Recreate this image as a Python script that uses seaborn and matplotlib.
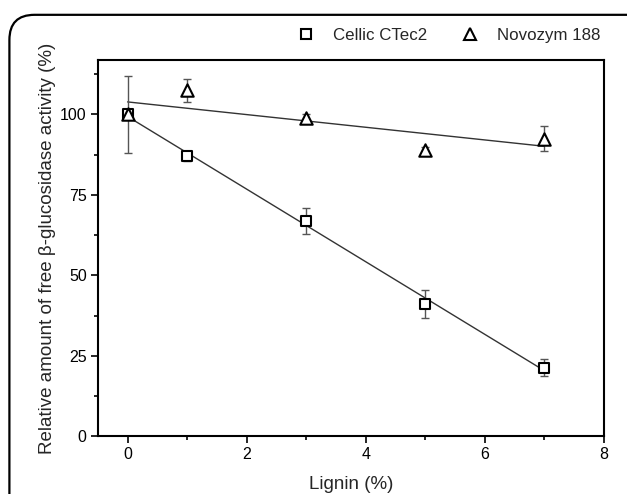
import numpy as np
import pandas as pd
import matplotlib
matplotlib.use("Agg")
import matplotlib.pyplot as plt
import seaborn as sns
from matplotlib.patches import FancyBboxPatch
from matplotlib.ticker import MultipleLocator
from matplotlib.lines import Line2D

lignin = [0, 1, 3, 5, 7]
cellic = [100, 87, 67, 41, 21.3]
cellic_err = [12, 1.5, 4, 4.3, 2.7]
novozym = [100, 107.5, 99, 89, 92.5]
novozym_err = [0.8, 3.5, 1, 0.8, 3.8]
series_names = ["Cellic CTec2", "Novozym 188"]

sns.set_style("ticks")
plt.rcParams['font.family'] = ['Liberation Sans', 'DejaVu Sans']

fig = plt.figure(figsize=(6.27, 4.94), dpi=100)
ax = fig.add_axes([0.156, 0.117, 0.807, 0.762])

# rounded frame around figure
frame = FancyBboxPatch((0.015, -0.1), 1.2, 1.07, boxstyle="round,pad=0,rounding_size=0.04",
                       transform=fig.transFigure, fill=False, edgecolor="black", linewidth=1.6,
                       mutation_aspect=627/494)
fig.patches.append(frame)

df_c = pd.DataFrame({"x": lignin, "y": cellic})
df_n = pd.DataFrame({"x": lignin, "y": novozym})

for df in (df_c, df_n):
    sns.regplot(data=df, x="x", y="y", ax=ax, scatter=False, ci=None, truncate=True,
                line_kws=dict(color="#333333", linewidth=1.0))

ax.errorbar(lignin, cellic, yerr=cellic_err, fmt="none", ecolor="#555555", elinewidth=1.0,
            capsize=3, capthick=1.0)
ax.errorbar(lignin, novozym, yerr=novozym_err, fmt="none", ecolor="#555555", elinewidth=1.0,
            capsize=3, capthick=1.0)
sns.scatterplot(data=df_c, x="x", y="y", ax=ax, marker="s", s=55, facecolor="white",
                edgecolor="black", linewidth=1.5, zorder=5)
sns.scatterplot(data=df_n, x="x", y="y", ax=ax, marker="^", s=80, facecolor="white",
                edgecolor="black", linewidth=1.5, zorder=5)

ax.set_xlim(-0.5, 8)
ax.set_ylim(0, 117)
ax.set_xticks([0, 2, 4, 6, 8])
ax.set_yticks([0, 25, 50, 75, 100])
ax.xaxis.set_minor_locator(MultipleLocator(1))
ax.yaxis.set_minor_locator(MultipleLocator(12.5))
ax.tick_params(axis="both", which="major", direction="out", length=5, width=1.2,
               labelsize=11.5, color="black", labelcolor="black", pad=3)
ax.tick_params(axis="both", which="minor", direction="out", length=3, width=1.2, color="black")
for sp in ax.spines.values():
    sp.set_visible(True)
    sp.set_linewidth(1.5)
    sp.set_color("black")

ax.set_xlabel("Lignin (%)", fontsize=13.5, labelpad=10)
ax.set_ylabel("Relative amount of free β-glucosidase activity (%)", fontsize=13.5, labelpad=3)

handles = [
    Line2D([], [], marker="s", linestyle="none", markersize=6.5, markerfacecolor="white",
           markeredgecolor="black", markeredgewidth=1.5),
    Line2D([], [], marker="^", linestyle="none", markersize=8, markerfacecolor="white",
           markeredgecolor="black", markeredgewidth=1.5),
]
fig.legend(handles, series_names, loc="center right", bbox_to_anchor=(0.982, 0.928),
           ncol=2, frameon=False, fontsize=12.2, handletextpad=0.6, columnspacing=1.5)

fig.savefig("out.png", dpi=100)
